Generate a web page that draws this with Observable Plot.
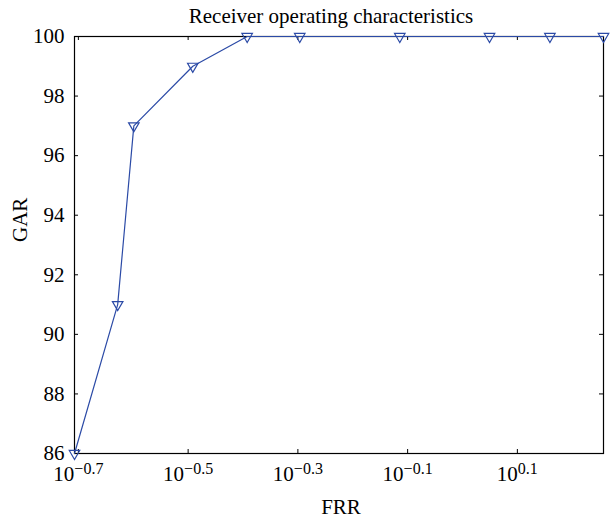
<!DOCTYPE html>
<html><head><meta charset="utf-8">
<script src="https://cdn.jsdelivr.net/npm/d3@7"></script>
<script src="https://cdn.jsdelivr.net/npm/@observablehq/plot@0.6"></script>
<style>body{margin:0;background:#fff;}</style>
</head><body><div id="chart"></div>
<script>
const frr = [0.1963, 0.2353, 0.2518, 0.3225, 0.4051, 0.5051, 0.7686, 1.120, 1.443, 1.807];
const gar = [86, 91, 97, 99, 100, 100, 100, 100, 100, 100];
const xTickExponents = [-0.7, -0.5, -0.3, -0.1, 0.1];
const yTicks = [86, 88, 90, 92, 94, 96, 98, 100];
const title = "Receiver operating characteristics";
const xLabel = "FRR";
const yLabel = "GAR";

const data = frr.map((f, i) => ({frr: f, gar: gar[i]}));
const xTicks = xTickExponents.map(e => Math.pow(10, e));

const W = 613, H = 520;
const mL = 74, mR = 10, mT = 36, mB = 67;
const innerW = W - mL - mR, innerH = H - mT - mB;
const tl = 4;
const blue = "#2b4aa6";
const font = "'Liberation Serif', 'Times New Roman', serif";
const fs = 21;

const chart = Plot.plot({
  width: W, height: H,
  marginLeft: mL, marginRight: mR, marginTop: mT, marginBottom: mB,
  style: {fontFamily: font, fontSize: fs + "px", color: "#000", background: "#fff"},
  x: {type: "log", domain: [d3.min(frr), d3.max(frr)], label: null},
  y: {domain: [86, 100], label: null},
  marks: [
    Plot.tickX(xTicks, {x: d => d, insetTop: innerH - tl, stroke: "#000"}),
    Plot.tickX(xTicks, {x: d => d, insetBottom: innerH - tl, stroke: "#000"}),
    Plot.tickY(yTicks, {y: d => d, insetRight: innerW - tl, stroke: "#000"}),
    Plot.tickY(yTicks, {y: d => d, insetLeft: innerW - tl, stroke: "#000"}),
    Plot.frame({stroke: "#000", strokeWidth: 1.2}),
    Plot.axisX({ticks: xTicks, tickSize: 0, tickPadding: 13, fontSize: fs, label: null,
      tickFormat: d => "10|" + (Math.round(Math.log10(d) * 10) / 10).toString().replace("-", "\u2212")}),
    Plot.axisY({ticks: yTicks, tickSize: 0, tickPadding: 10, fontSize: fs, label: null, tickFormat: d => String(d)}),
    Plot.line(data, {x: "frr", y: "gar", stroke: blue, strokeWidth: 1.2}),
    Plot.dot(data, {x: "frr", y: "gar", symbol: "triangle", rotate: 180, r: 3.9, stroke: blue, fill: "none", strokeWidth: 1.2}),
    Plot.text([title], {frameAnchor: "top", dx: -8, dy: -20, lineAnchor: "middle", fontSize: fs}),
    Plot.text([xLabel], {frameAnchor: "bottom", dx: 2, dy: 54, lineAnchor: "middle", fontSize: fs}),
    Plot.text([yLabel], {frameAnchor: "left", dx: -54, dy: -3, rotate: -90, lineAnchor: "middle", fontSize: fs})
  ]
});

d3.select(chart).selectAll('[aria-label="x-axis tick label"] text').each(function() {
  const t = d3.select(this);
  const parts = t.text().split("|");
  t.text(null);
  t.append("tspan").text(parts[0]);
  t.append("tspan").attr("dy", -7).attr("font-size", 16).text(parts[1]);
});

document.getElementById("chart").appendChild(chart);
</script>
</body></html>
